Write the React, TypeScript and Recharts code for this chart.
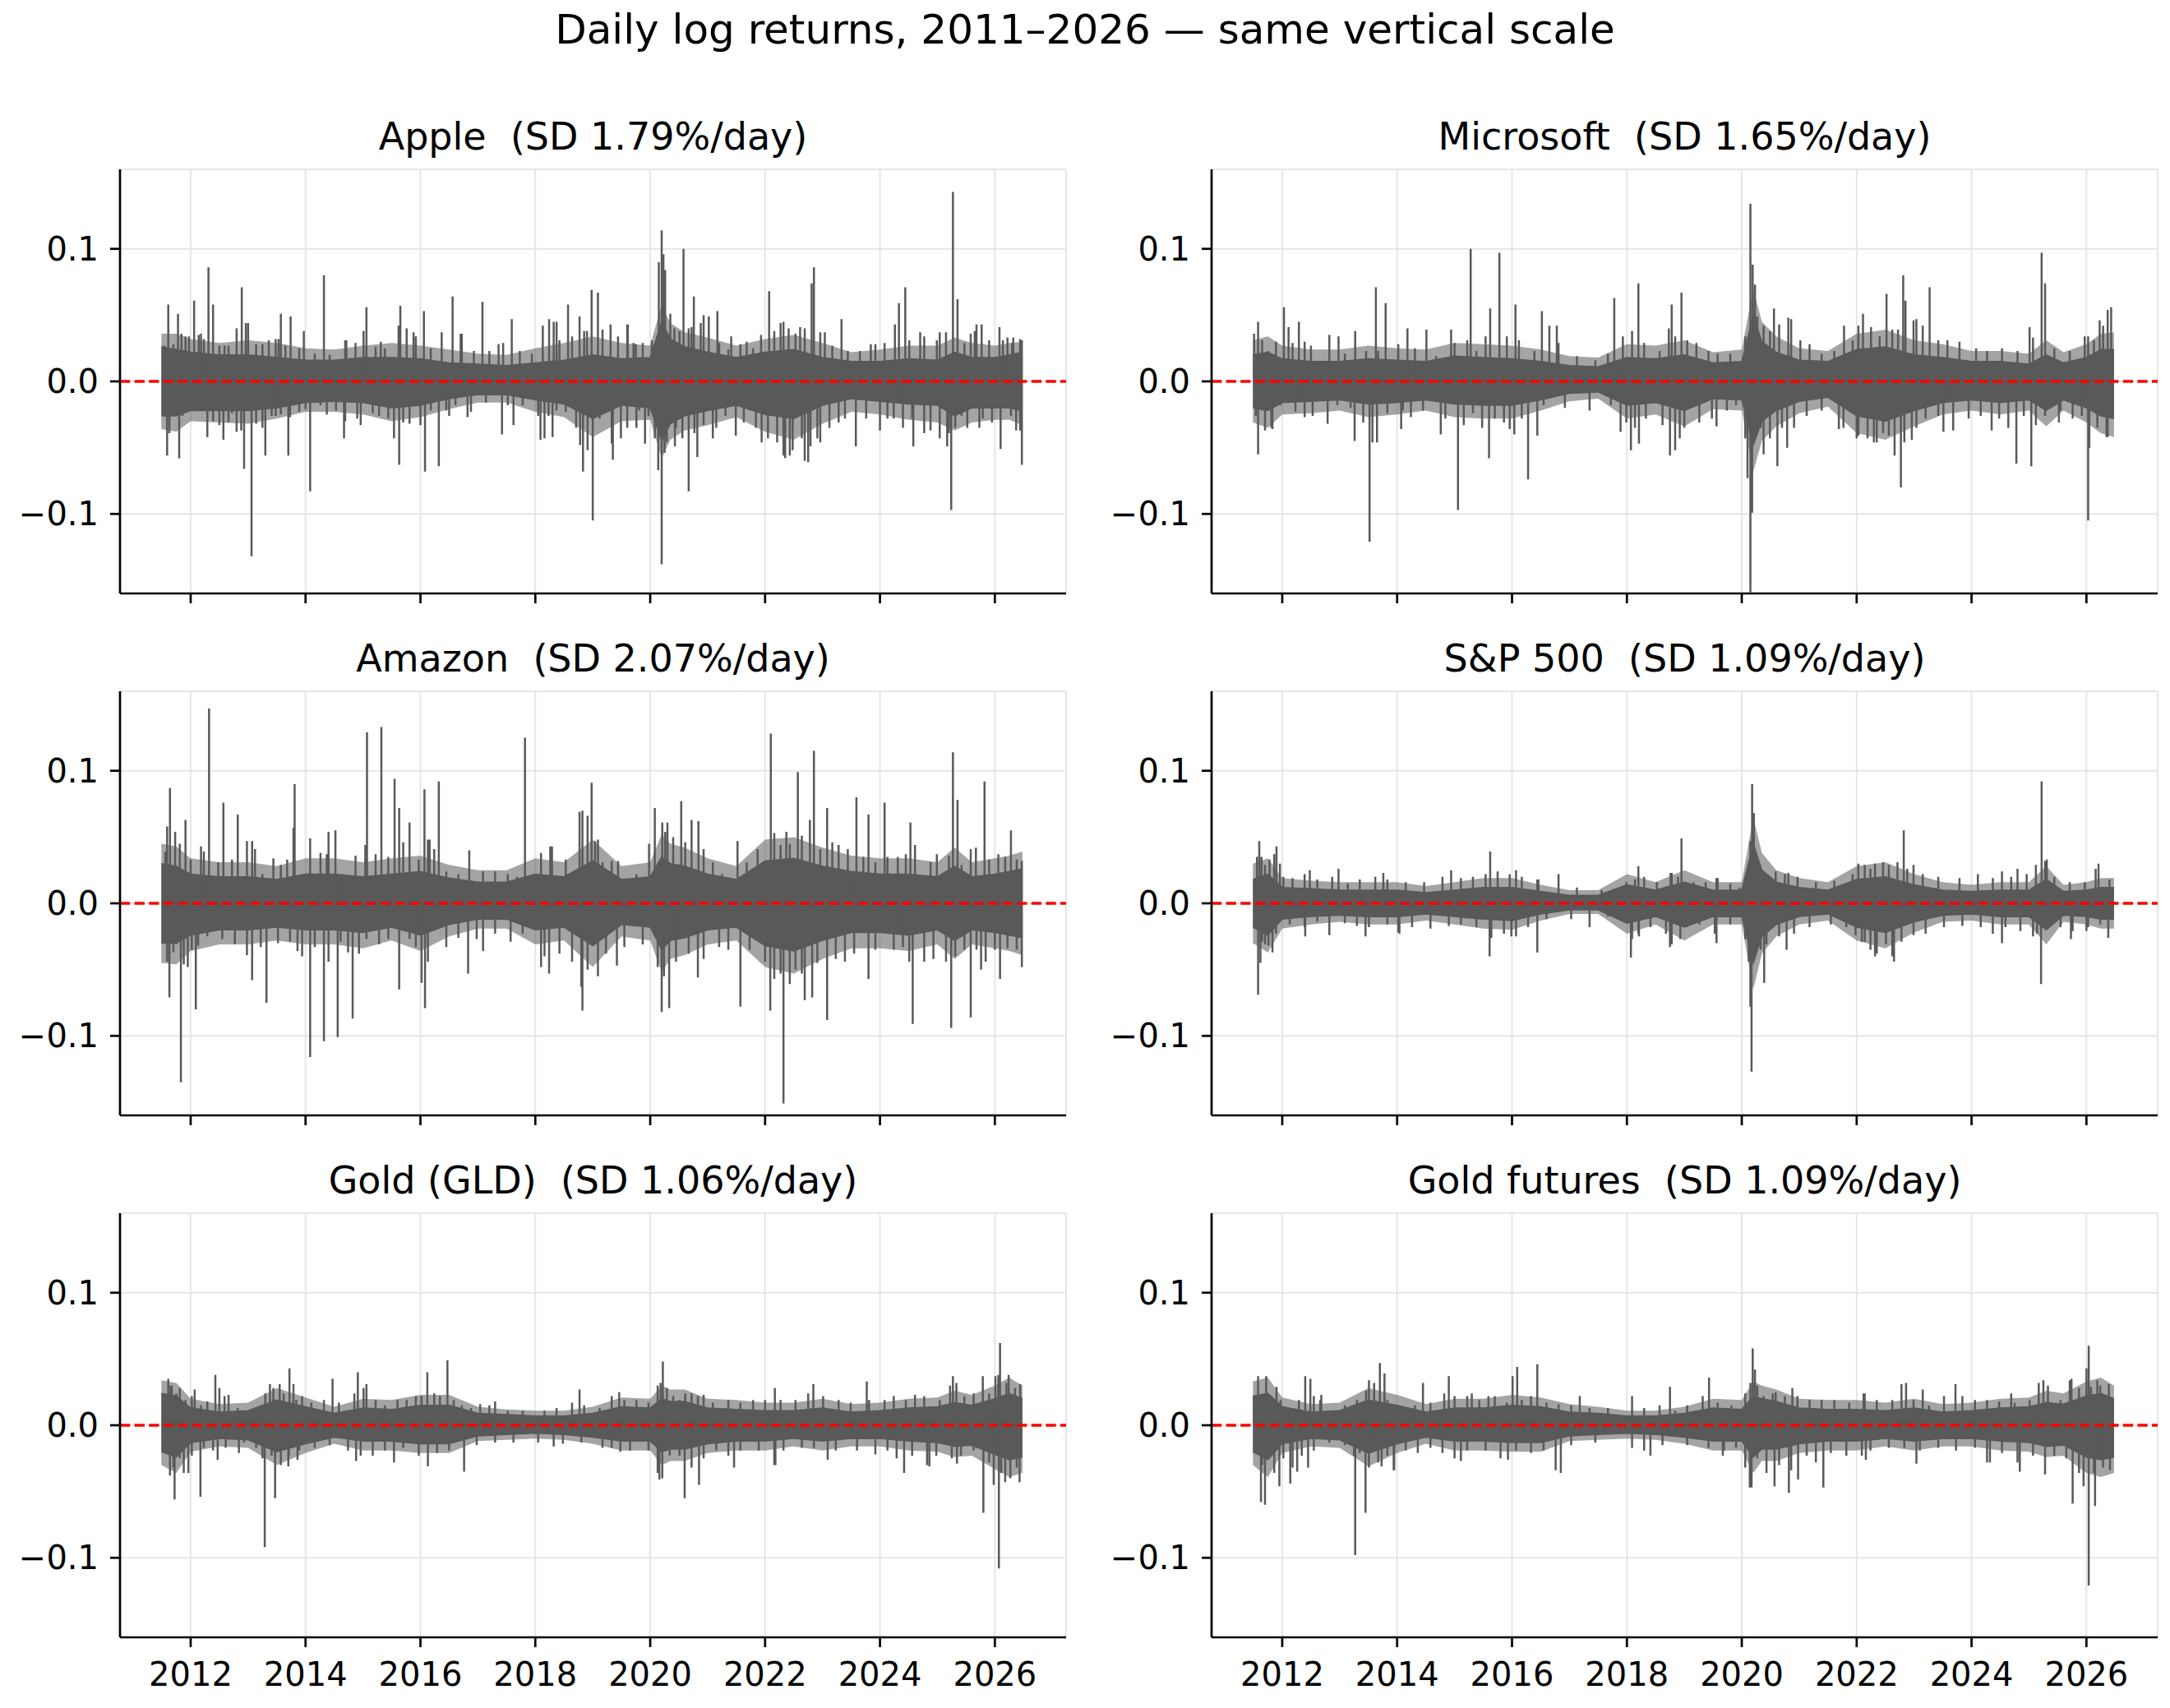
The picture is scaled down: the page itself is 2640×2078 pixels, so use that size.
import React from 'react';
import { ComposedChart, Area, Line, XAxis, YAxis, CartesianGrid, ReferenceLine } from 'recharts';

const FONT = '"DejaVu Sans", Verdana, sans-serif';
const INK = '#595959';

const MAIN_TITLE = 'Daily log returns, 2011–2026 — same vertical scale';
const YEAR_TICKS = [2012, 2014, 2016, 2018, 2020, 2022, 2024, 2026];
const Y_TICKS = [-0.1, 0, 0.1];

// time points (decimal years) at which the dense core / fringe of each series is read
const BAND_T = [
  2011.49, 2011.75, 2012.0, 2012.5, 2013.0, 2013.5, 2014.0, 2014.5, 2015.0, 2015.5, 2016.0, 2016.5,
  2017.0, 2017.5, 2018.0, 2018.5, 2019.0, 2019.5, 2020.0, 2020.2, 2020.35, 2020.6, 2021.0, 2021.5,
  2022.0, 2022.5, 2023.0, 2023.5, 2024.0, 2024.5, 2025.0, 2025.3, 2025.6, 2026.0, 2026.25, 2026.48,
];

// ---------- Apple ----------
const APPLE_HI = [
  0.026, 0.024, 0.022, 0.020, 0.020, 0.018, 0.016, 0.016, 0.018, 0.018, 0.017, 0.014,
  0.013, 0.012, 0.014, 0.016, 0.020, 0.017, 0.018, 0.045, 0.032, 0.026, 0.022, 0.018,
  0.022, 0.024, 0.018, 0.015, 0.015, 0.017, 0.016, 0.022, 0.018, 0.018, 0.020, 0.022,
];
const APPLE_LO = [
  -0.026, -0.026, -0.022, -0.022, -0.022, -0.020, -0.016, -0.015, -0.016, -0.020, -0.018, -0.013,
  -0.010, -0.010, -0.014, -0.017, -0.028, -0.018, -0.020, -0.045, -0.032, -0.026, -0.022, -0.018,
  -0.025, -0.028, -0.018, -0.013, -0.015, -0.017, -0.018, -0.026, -0.020, -0.020, -0.020, -0.022,
];
const APPLE_HI2 = [
  0.036, 0.036, 0.032, 0.029, 0.031, 0.029, 0.025, 0.024, 0.027, 0.029, 0.027, 0.024,
  0.021, 0.020, 0.025, 0.029, 0.034, 0.029, 0.027, 0.058, 0.044, 0.037, 0.033, 0.027,
  0.032, 0.035, 0.029, 0.022, 0.024, 0.027, 0.027, 0.033, 0.029, 0.027, 0.029, 0.030,
];
const APPLE_LO2 = [
  -0.036, -0.038, -0.030, -0.031, -0.032, -0.028, -0.023, -0.023, -0.025, -0.030, -0.027, -0.021,
  -0.016, -0.016, -0.023, -0.027, -0.042, -0.030, -0.029, -0.058, -0.044, -0.037, -0.033, -0.027,
  -0.038, -0.044, -0.032, -0.023, -0.025, -0.029, -0.031, -0.037, -0.031, -0.029, -0.029, -0.033,
];
const APPLE_SPIKES = [
  [2011.61, 0.058], [2011.78, 0.051], [2012.06, 0.061], [2012.31, 0.086], [2012.39, 0.058], [2012.89, 0.071],
  [2013.0, 0.044], [2013.57, 0.051], [2013.74, 0.049], [2014.32, 0.080], [2015.06, 0.056], [2015.65, 0.057],
  [2016.06, 0.053], [2016.56, 0.064], [2017.08, 0.060], [2017.59, 0.047], [2018.24, 0.047], [2018.57, 0.058],
  [2018.98, 0.069], [2019.09, 0.067], [2019.61, 0.043], [2020.15, 0.090], [2020.20, 0.114], [2020.23, 0.096],
  [2020.26, 0.084], [2020.58, 0.100], [2020.76, 0.064], [2021.17, 0.053], [2022.07, 0.068], [2022.32, 0.045],
  [2022.81, 0.074], [2022.85, 0.086], [2023.33, 0.047], [2024.33, 0.059], [2024.44, 0.071], [2024.70, 0.037],
  [2025.27, 0.143], [2025.35, 0.062], [2025.77, 0.043], [2026.08, 0.041], [2026.47, 0.031],
  [2011.59, -0.056], [2011.80, -0.058], [2012.29, -0.042], [2012.57, -0.044], [2012.93, -0.066], [2013.06, -0.132],
  [2013.30, -0.056], [2013.70, -0.056], [2014.08, -0.083], [2014.67, -0.043], [2015.54, -0.043], [2015.63, -0.063],
  [2016.08, -0.068], [2016.32, -0.064], [2017.42, -0.040], [2018.09, -0.044], [2018.30, -0.042], [2018.83, -0.068],
  [2019.0, -0.105], [2019.35, -0.059], [2019.91, -0.047], [2020.14, -0.067], [2020.20, -0.138], [2020.25, -0.054],
  [2020.43, -0.049], [2020.67, -0.083], [2020.82, -0.057], [2021.94, -0.046], [2022.35, -0.058], [2022.69, -0.060],
  [2022.79, -0.049], [2023.58, -0.049], [2024.0, -0.037], [2024.58, -0.049], [2025.17, -0.049], [2025.24, -0.097],
  [2026.10, -0.051], [2026.47, -0.063],
];
const APPLE_FUZZ = [
  [2011.54, 0.027], [2011.70, 0.028], [2011.84, 0.036], [2011.91, 0.034], [2011.97, 0.034], [2012.14, 0.035],
  [2012.18, 0.036], [2012.23, 0.032], [2012.50, 0.027], [2012.59, 0.027], [2012.66, 0.027], [2012.80, 0.040],
  [2012.96, 0.044], [2013.14, 0.028], [2013.25, 0.028], [2013.36, 0.031], [2013.48, 0.032], [2013.53, 0.032],
  [2013.65, 0.027], [2013.89, 0.025], [2013.97, 0.038], [2014.16, 0.021], [2014.42, 0.020], [2014.69, 0.031],
  [2014.71, 0.031], [2014.87, 0.029], [2015.01, 0.038], [2015.22, 0.026], [2015.31, 0.030], [2015.38, 0.025],
  [2015.62, 0.042], [2015.76, 0.040], [2015.88, 0.037], [2015.92, 0.034], [2016.18, 0.025], [2016.37, 0.037],
  [2016.70, 0.036], [2016.72, 0.036], [2016.93, 0.023], [2017.20, 0.023], [2017.36, 0.028], [2017.44, 0.029],
  [2017.73, 0.023], [2017.94, 0.021], [2018.13, 0.042], [2018.32, 0.045], [2018.37, 0.045], [2018.42, 0.031],
  [2018.64, 0.034], [2018.77, 0.049], [2018.85, 0.038], [2018.90, 0.038], [2019.17, 0.039], [2019.31, 0.043],
  [2019.44, 0.034], [2019.60, 0.043], [2019.71, 0.029], [2019.75, 0.028], [2019.87, 0.029], [2020.03, 0.031],
  [2020.35, 0.051], [2020.42, 0.040], [2020.51, 0.038], [2020.67, 0.040], [2020.72, 0.041], [2020.88, 0.044],
  [2020.93, 0.050], [2021.02, 0.049], [2021.20, 0.029], [2021.36, 0.024], [2021.41, 0.034], [2021.57, 0.028],
  [2021.68, 0.030], [2021.79, 0.025], [2021.93, 0.035], [2022.16, 0.038], [2022.27, 0.044], [2022.41, 0.040],
  [2022.53, 0.036], [2022.61, 0.041], [2022.69, 0.040], [2022.96, 0.037], [2023.04, 0.037], [2023.17, 0.027],
  [2023.44, 0.023], [2023.65, 0.023], [2023.84, 0.028], [2023.92, 0.028], [2024.08, 0.029], [2024.26, 0.043],
  [2024.51, 0.031], [2024.77, 0.034], [2024.99, 0.031], [2025.04, 0.037], [2025.15, 0.037], [2025.47, 0.029],
  [2025.58, 0.036], [2025.65, 0.038], [2025.68, 0.043], [2025.90, 0.031], [2026.14, 0.031], [2026.22, 0.033],
  [2026.30, 0.029], [2026.32, 0.033], [2026.44, 0.032],
  [2011.63, -0.039], [2011.71, -0.024], [2011.86, -0.026], [2012.13, -0.022], [2012.39, -0.030], [2012.50, -0.033],
  [2012.66, -0.031], [2012.72, -0.024], [2012.80, -0.038], [2012.88, -0.037], [2013.14, -0.032], [2013.25, -0.035],
  [2013.41, -0.026], [2013.48, -0.026], [2013.57, -0.025], [2013.73, -0.027], [2013.89, -0.023], [2014.0, -0.021],
  [2014.26, -0.018], [2014.37, -0.025], [2014.53, -0.022], [2014.69, -0.030], [2014.90, -0.028], [2014.96, -0.033],
  [2015.17, -0.024], [2015.28, -0.026], [2015.44, -0.028], [2015.70, -0.031], [2015.81, -0.032], [2016.0, -0.033],
  [2016.18, -0.022], [2016.45, -0.022], [2016.50, -0.026], [2016.61, -0.018], [2016.82, -0.027], [2016.88, -0.023],
  [2017.14, -0.016], [2017.52, -0.018], [2017.62, -0.033], [2017.78, -0.018], [2018.05, -0.026], [2018.16, -0.043],
  [2018.23, -0.026], [2018.37, -0.022], [2018.53, -0.023], [2018.71, -0.035], [2018.78, -0.048], [2018.91, -0.052],
  [2019.12, -0.028], [2019.33, -0.047], [2019.49, -0.043], [2019.60, -0.035], [2019.76, -0.035], [2019.81, -0.022],
  [2019.97, -0.026], [2020.08, -0.043], [2020.29, -0.046], [2020.45, -0.035], [2020.56, -0.043], [2020.77, -0.039],
  [2020.93, -0.033], [2021.09, -0.043], [2021.15, -0.035], [2021.31, -0.026], [2021.49, -0.041], [2021.63, -0.031],
  [2021.84, -0.035], [2022.05, -0.043], [2022.21, -0.046], [2022.32, -0.056], [2022.43, -0.056], [2022.48, -0.052],
  [2022.64, -0.043], [2022.75, -0.061], [2022.91, -0.043], [2022.96, -0.046], [2023.12, -0.035], [2023.28, -0.031],
  [2023.39, -0.028], [2023.76, -0.028], [2024.13, -0.028], [2024.24, -0.028], [2024.40, -0.035], [2024.56, -0.028],
  [2024.77, -0.039], [2024.88, -0.037], [2025.04, -0.043], [2025.20, -0.039], [2025.31, -0.035], [2025.42, -0.026],
  [2025.52, -0.035], [2025.73, -0.035], [2025.79, -0.028], [2025.95, -0.031], [2026.28, -0.026], [2026.37, -0.037],
  [2026.44, -0.037],
];

// ---------- Microsoft ----------
const MSFT_HI = [
  0.020, 0.022, 0.017, 0.015, 0.015, 0.017, 0.016, 0.015, 0.019, 0.018, 0.017, 0.015,
  0.012, 0.011, 0.018, 0.017, 0.020, 0.014, 0.015, 0.050, 0.030, 0.022, 0.016, 0.015,
  0.024, 0.026, 0.020, 0.018, 0.015, 0.015, 0.013, 0.020, 0.014, 0.018, 0.024, 0.024,
];
const MSFT_LO = [
  -0.020, -0.022, -0.016, -0.015, -0.014, -0.017, -0.016, -0.014, -0.017, -0.018, -0.018, -0.014,
  -0.009, -0.008, -0.018, -0.016, -0.022, -0.013, -0.014, -0.048, -0.030, -0.022, -0.015, -0.012,
  -0.026, -0.030, -0.022, -0.016, -0.014, -0.016, -0.014, -0.022, -0.014, -0.020, -0.026, -0.028,
];
const MSFT_HI2 = [
  0.031, 0.034, 0.027, 0.024, 0.024, 0.027, 0.025, 0.024, 0.029, 0.028, 0.027, 0.024,
  0.019, 0.018, 0.028, 0.027, 0.031, 0.022, 0.024, 0.070, 0.045, 0.034, 0.025, 0.023,
  0.036, 0.039, 0.031, 0.028, 0.023, 0.023, 0.021, 0.031, 0.022, 0.028, 0.036, 0.037,
];
const MSFT_LO2 = [
  -0.031, -0.035, -0.025, -0.024, -0.022, -0.027, -0.025, -0.022, -0.027, -0.028, -0.028, -0.022,
  -0.015, -0.013, -0.028, -0.025, -0.034, -0.021, -0.022, -0.068, -0.045, -0.034, -0.024, -0.019,
  -0.039, -0.044, -0.034, -0.025, -0.022, -0.025, -0.022, -0.034, -0.022, -0.031, -0.039, -0.042,
];
const MSFT_SPIKES = [
  [2011.58, 0.045], [2012.03, 0.056], [2012.29, 0.045], [2013.63, 0.071], [2013.80, 0.059], [2014.18, 0.040],
  [2014.51, 0.039], [2014.94, 0.039], [2015.28, 0.100], [2015.62, 0.055], [2015.78, 0.097], [2016.06, 0.058],
  [2016.52, 0.053], [2016.78, 0.042], [2017.78, 0.063], [2018.20, 0.074], [2018.78, 0.058], [2018.95, 0.067],
  [2020.15, 0.134], [2020.19, 0.088], [2020.23, 0.073], [2020.56, 0.055], [2020.81, 0.048], [2021.78, 0.042],
  [2022.11, 0.051], [2022.52, 0.066], [2022.81, 0.080], [2022.85, 0.061], [2023.27, 0.071], [2023.04, 0.047],
  [2025.01, 0.041], [2025.22, 0.097], [2025.28, 0.074], [2025.97, 0.034], [2026.23, 0.046], [2026.37, 0.054],
  [2026.43, 0.056],
  [2011.58, -0.055], [2011.70, -0.037], [2011.83, -0.036], [2013.26, -0.045], [2013.52, -0.121], [2013.65, -0.046],
  [2014.07, -0.036], [2014.76, -0.040], [2015.06, -0.097], [2015.60, -0.058], [2016.04, -0.040], [2016.28, -0.074],
  [2016.44, -0.041], [2017.89, -0.038], [2018.07, -0.052], [2018.21, -0.047], [2018.75, -0.056], [2018.92, -0.043],
  [2019.56, -0.034], [2020.10, -0.073], [2020.15, -0.159], [2020.18, -0.099], [2020.38, -0.055], [2020.62, -0.064],
  [2020.79, -0.050], [2021.69, -0.036], [2022.0, -0.043], [2022.35, -0.046], [2022.66, -0.056], [2022.77, -0.080],
  [2022.96, -0.044], [2023.51, -0.038], [2024.35, -0.037], [2024.78, -0.062], [2025.04, -0.064], [2025.52, -0.031],
  [2026.03, -0.105], [2026.05, -0.050], [2026.37, -0.042],
];
const MSFT_FUZZ = [
  [2011.51, 0.036], [2011.65, 0.031], [2011.76, 0.023], [2011.89, 0.030], [2012.11, 0.041], [2012.18, 0.029],
  [2012.39, 0.030], [2012.50, 0.027], [2012.82, 0.035], [2012.98, 0.034], [2013.09, 0.021], [2013.27, 0.038],
  [2013.46, 0.023], [2013.67, 0.023], [2014.02, 0.028], [2014.31, 0.025], [2014.68, 0.019], [2015.0, 0.029],
  [2015.22, 0.031], [2015.38, 0.023], [2015.54, 0.034], [2015.91, 0.034], [2016.12, 0.031], [2016.39, 0.023],
  [2016.65, 0.042], [2016.81, 0.029], [2017.13, 0.019], [2017.45, 0.016], [2017.67, 0.021], [2017.93, 0.034],
  [2018.09, 0.038], [2018.30, 0.029], [2018.57, 0.023], [2018.73, 0.040], [2018.84, 0.034], [2019.05, 0.031],
  [2019.21, 0.029], [2019.42, 0.023], [2019.58, 0.021], [2019.80, 0.021], [2020.06, 0.034], [2020.27, 0.049],
  [2020.38, 0.042], [2020.49, 0.038], [2020.65, 0.043], [2020.86, 0.047], [2021.02, 0.031], [2021.18, 0.028],
  [2021.39, 0.021], [2021.61, 0.023], [2021.93, 0.031], [2022.03, 0.042], [2022.25, 0.041], [2022.40, 0.034],
  [2022.62, 0.039], [2022.72, 0.039], [2022.99, 0.046], [2023.15, 0.042], [2023.42, 0.031], [2023.58, 0.031],
  [2023.79, 0.030], [2024.08, 0.025], [2024.27, 0.023], [2024.53, 0.025], [2024.80, 0.023], [2025.07, 0.033],
  [2025.44, 0.025], [2025.71, 0.023], [2026.03, 0.034], [2026.13, 0.031], [2026.29, 0.042],
  [2011.54, -0.026], [2011.65, -0.022], [2011.81, -0.035], [2011.97, -0.018], [2012.23, -0.023], [2012.39, -0.027],
  [2012.53, -0.026], [2012.79, -0.032], [2012.96, -0.018], [2013.19, -0.020], [2013.41, -0.031], [2013.57, -0.046],
  [2013.83, -0.024], [2014.10, -0.022], [2014.24, -0.027], [2014.45, -0.022], [2014.84, -0.028], [2015.16, -0.033],
  [2015.32, -0.024], [2015.48, -0.035], [2015.70, -0.028], [2015.86, -0.031], [2015.96, -0.036], [2016.17, -0.028],
  [2016.55, -0.018], [2016.92, -0.020], [2017.35, -0.022], [2017.72, -0.018], [2017.99, -0.031], [2018.14, -0.035],
  [2018.33, -0.028], [2018.62, -0.033], [2018.84, -0.052], [2019.0, -0.035], [2019.26, -0.031], [2019.48, -0.028],
  [2019.74, -0.022], [2019.90, -0.018], [2020.06, -0.043], [2020.22, -0.043], [2020.33, -0.035], [2020.49, -0.043],
  [2020.70, -0.035], [2020.91, -0.035], [2021.13, -0.026], [2021.39, -0.022], [2021.77, -0.035], [2022.03, -0.041],
  [2022.19, -0.043], [2022.30, -0.046], [2022.46, -0.039], [2022.56, -0.041], [2022.83, -0.046], [2023.04, -0.035],
  [2023.20, -0.028], [2023.42, -0.026], [2023.68, -0.037], [2023.95, -0.028], [2024.16, -0.026], [2024.48, -0.028],
  [2024.64, -0.035], [2024.91, -0.026], [2025.12, -0.033], [2025.28, -0.026], [2025.55, -0.022], [2025.76, -0.028],
  [2025.92, -0.026], [2026.19, -0.035], [2026.35, -0.042],
];

// ---------- Amazon ----------
const AMZN_HI = [
  0.030, 0.028, 0.022, 0.020, 0.020, 0.018, 0.022, 0.022, 0.020, 0.022, 0.024, 0.019,
  0.016, 0.016, 0.022, 0.020, 0.032, 0.018, 0.020, 0.035, 0.030, 0.028, 0.022, 0.018,
  0.032, 0.034, 0.028, 0.024, 0.022, 0.022, 0.020, 0.028, 0.020, 0.022, 0.024, 0.026,
];
const AMZN_LO = [
  -0.030, -0.030, -0.024, -0.020, -0.020, -0.018, -0.020, -0.020, -0.022, -0.018, -0.024, -0.016,
  -0.012, -0.012, -0.020, -0.018, -0.032, -0.016, -0.018, -0.035, -0.028, -0.026, -0.020, -0.018,
  -0.032, -0.036, -0.028, -0.022, -0.022, -0.024, -0.020, -0.028, -0.020, -0.022, -0.024, -0.026,
];
const AMZN_HI2 = [
  0.045, 0.043, 0.034, 0.031, 0.031, 0.028, 0.034, 0.034, 0.031, 0.034, 0.036, 0.029,
  0.025, 0.025, 0.034, 0.031, 0.048, 0.028, 0.031, 0.052, 0.045, 0.042, 0.034, 0.028,
  0.048, 0.050, 0.042, 0.036, 0.034, 0.034, 0.031, 0.042, 0.031, 0.034, 0.036, 0.039,
];
const AMZN_LO2 = [
  -0.045, -0.046, -0.036, -0.031, -0.031, -0.028, -0.031, -0.031, -0.034, -0.028, -0.036, -0.025,
  -0.019, -0.019, -0.031, -0.028, -0.048, -0.025, -0.028, -0.052, -0.042, -0.039, -0.031, -0.028,
  -0.048, -0.053, -0.042, -0.034, -0.034, -0.036, -0.031, -0.042, -0.031, -0.034, -0.036, -0.039,
];
const AMZN_SPIKES = [
  [2011.64, 0.087], [2011.59, 0.058], [2011.91, 0.063], [2012.32, 0.147], [2012.57, 0.076], [2012.82, 0.067],
  [2013.07, 0.047], [2013.44, 0.034], [2013.79, 0.057], [2013.81, 0.090], [2014.08, 0.049], [2014.40, 0.054],
  [2014.52, 0.055], [2014.87, 0.036], [2015.07, 0.129], [2015.32, 0.133], [2015.55, 0.094], [2015.63, 0.072],
  [2015.81, 0.061], [2016.07, 0.086], [2016.16, 0.048], [2016.32, 0.092], [2016.85, 0.040], [2017.82, 0.125],
  [2018.26, 0.043], [2018.82, 0.070], [2018.98, 0.091], [2019.09, 0.048], [2020.08, 0.072], [2020.30, 0.061],
  [2020.54, 0.077], [2020.84, 0.062], [2021.52, 0.047], [2021.87, 0.041], [2022.10, 0.128], [2022.57, 0.099],
  [2022.78, 0.063], [2022.85, 0.115], [2023.08, 0.072], [2023.59, 0.080], [2023.80, 0.067], [2024.08, 0.076],
  [2024.53, 0.061], [2025.27, 0.114], [2025.35, 0.078], [2025.67, 0.042], [2025.82, 0.092], [2026.28, 0.055],
  [2026.47, 0.032],
  [2011.63, -0.071], [2011.83, -0.135], [2011.95, -0.048], [2012.09, -0.080], [2013.07, -0.058], [2013.32, -0.075],
  [2013.86, -0.036], [2014.08, -0.116], [2014.32, -0.104], [2014.56, -0.101], [2014.82, -0.087], [2014.93, -0.038],
  [2015.63, -0.065], [2016.02, -0.060], [2016.08, -0.079], [2016.83, -0.053], [2017.09, -0.036], [2018.10, -0.048],
  [2018.24, -0.053], [2018.80, -0.063], [2018.82, -0.081], [2019.09, -0.055], [2019.42, -0.047], [2020.20, -0.082],
  [2020.33, -0.079], [2020.83, -0.056], [2021.57, -0.078], [2022.09, -0.081], [2022.32, -0.151], [2022.69, -0.073],
  [2022.82, -0.071], [2023.08, -0.088], [2023.80, -0.057], [2024.57, -0.091], [2025.24, -0.094], [2025.58, -0.086],
  [2025.76, -0.050], [2026.09, -0.057], [2026.47, -0.048],
];
const AMZN_FUZZ = [
  [2011.56, 0.039], [2011.73, 0.054], [2011.81, 0.045], [2012.0, 0.033], [2012.18, 0.043], [2012.23, 0.039],
  [2012.48, 0.031], [2012.72, 0.033], [2012.98, 0.047], [2013.12, 0.041], [2013.25, 0.022], [2013.57, 0.029],
  [2013.68, 0.033], [2014.26, 0.038], [2014.37, 0.037], [2014.64, 0.022], [2015.04, 0.044], [2015.22, 0.037],
  [2015.44, 0.035], [2015.70, 0.046], [2015.97, 0.033], [2016.13, 0.048], [2016.24, 0.041], [2016.45, 0.024],
  [2016.66, 0.022], [2017.09, 0.024], [2017.30, 0.024], [2017.52, 0.022], [2017.68, 0.020], [2018.10, 0.038],
  [2018.29, 0.043], [2018.53, 0.033], [2018.77, 0.069], [2018.91, 0.066], [2019.04, 0.047], [2019.17, 0.031],
  [2019.33, 0.032], [2019.44, 0.032], [2019.76, 0.022], [2019.98, 0.045], [2020.21, 0.061], [2020.26, 0.054],
  [2020.40, 0.050], [2020.61, 0.046], [2020.72, 0.063], [2020.93, 0.041], [2021.09, 0.031], [2021.25, 0.022],
  [2021.68, 0.031], [2022.16, 0.053], [2022.27, 0.044], [2022.37, 0.054], [2022.43, 0.045], [2022.64, 0.051],
  [2022.96, 0.041], [2023.17, 0.046], [2023.28, 0.044], [2023.44, 0.041], [2023.71, 0.035], [2023.92, 0.031],
  [2024.13, 0.035], [2024.31, 0.035], [2024.45, 0.037], [2024.61, 0.044], [2024.88, 0.031], [2024.99, 0.037],
  [2025.20, 0.036], [2025.42, 0.029], [2025.58, 0.041], [2025.90, 0.033], [2026.06, 0.037], [2026.18, 0.035],
  [2026.38, 0.033],
  [2011.59, -0.044], [2011.70, -0.037], [2011.75, -0.031], [2011.88, -0.046], [2012.02, -0.035], [2012.13, -0.032],
  [2012.29, -0.025], [2012.55, -0.027], [2012.77, -0.031], [2012.98, -0.039], [2013.22, -0.033], [2013.52, -0.030],
  [2013.73, -0.029], [2013.94, -0.040], [2014.16, -0.033], [2014.40, -0.044], [2014.61, -0.029], [2014.74, -0.037],
  [2015.06, -0.027], [2015.28, -0.031], [2015.44, -0.027], [2015.81, -0.027], [2015.92, -0.033], [2016.13, -0.044],
  [2016.45, -0.033], [2016.66, -0.026], [2016.98, -0.027], [2017.30, -0.023], [2017.57, -0.029], [2017.78, -0.023],
  [2018.16, -0.040], [2018.42, -0.038], [2018.64, -0.044], [2018.91, -0.050], [2019.23, -0.038], [2019.55, -0.033],
  [2019.87, -0.031], [2020.13, -0.048], [2020.24, -0.055], [2020.45, -0.044], [2020.67, -0.038], [2020.93, -0.042],
  [2021.20, -0.033], [2021.36, -0.035], [2021.73, -0.035], [2022.0, -0.044], [2022.16, -0.057], [2022.27, -0.053],
  [2022.43, -0.061], [2022.53, -0.050], [2022.64, -0.053], [2022.91, -0.045], [2023.23, -0.042], [2023.39, -0.044],
  [2023.55, -0.038], [2023.92, -0.035], [2024.24, -0.035], [2024.40, -0.033], [2024.51, -0.044], [2024.77, -0.044],
  [2024.93, -0.042], [2025.15, -0.044], [2025.31, -0.040], [2025.47, -0.035], [2025.68, -0.035], [2025.84, -0.044],
  [2026.0, -0.035], [2026.22, -0.034], [2026.38, -0.035],
];

// ---------- S&P 500 ----------
const SPX_HI = [
  0.018, 0.022, 0.012, 0.011, 0.010, 0.010, 0.010, 0.008, 0.010, 0.012, 0.012, 0.009,
  0.006, 0.006, 0.014, 0.010, 0.016, 0.010, 0.010, 0.045, 0.025, 0.016, 0.012, 0.010,
  0.018, 0.020, 0.014, 0.010, 0.009, 0.010, 0.010, 0.018, 0.009, 0.010, 0.012, 0.012,
];
const SPX_LO = [
  -0.018, -0.024, -0.012, -0.010, -0.009, -0.010, -0.010, -0.008, -0.010, -0.012, -0.013, -0.008,
  -0.005, -0.005, -0.015, -0.010, -0.018, -0.010, -0.010, -0.045, -0.025, -0.016, -0.010, -0.008,
  -0.018, -0.022, -0.014, -0.009, -0.008, -0.010, -0.010, -0.020, -0.009, -0.010, -0.012, -0.012,
];
const SPX_HI2 = [
  0.030, 0.034, 0.019, 0.017, 0.016, 0.016, 0.016, 0.013, 0.016, 0.019, 0.019, 0.014,
  0.010, 0.010, 0.022, 0.016, 0.025, 0.016, 0.016, 0.065, 0.038, 0.025, 0.019, 0.016,
  0.028, 0.031, 0.022, 0.016, 0.014, 0.016, 0.016, 0.028, 0.014, 0.016, 0.019, 0.019,
];
const SPX_LO2 = [
  -0.030, -0.037, -0.019, -0.016, -0.014, -0.016, -0.016, -0.013, -0.016, -0.019, -0.020, -0.013,
  -0.008, -0.008, -0.023, -0.016, -0.028, -0.016, -0.016, -0.065, -0.038, -0.025, -0.016, -0.013,
  -0.028, -0.034, -0.022, -0.014, -0.013, -0.016, -0.016, -0.031, -0.014, -0.016, -0.019, -0.019,
];
const SPX_SPIKES = [
  [2011.60, 0.047], [2011.64, 0.035], [2011.90, 0.043], [2011.96, 0.030], [2012.48, 0.025], [2012.98, 0.026],
  [2013.76, 0.023], [2014.94, 0.025], [2015.62, 0.039], [2016.07, 0.025], [2016.46, 0.018], [2018.20, 0.028],
  [2018.76, 0.023], [2018.95, 0.049], [2019.56, 0.019], [2020.15, 0.047], [2020.18, 0.090], [2020.21, 0.068],
  [2020.25, 0.031], [2020.81, 0.023], [2022.03, 0.030], [2022.32, 0.030], [2022.71, 0.031], [2022.82, 0.055],
  [2022.99, 0.029], [2024.53, 0.024], [2024.80, 0.026], [2025.22, 0.092], [2025.31, 0.033], [2026.21, 0.030],
  [2011.58, -0.069], [2011.62, -0.045], [2011.70, -0.031], [2011.83, -0.037], [2012.40, -0.025], [2013.45, -0.025],
  [2014.04, -0.023], [2015.61, -0.040], [2015.99, -0.025], [2016.44, -0.037], [2017.35, -0.018], [2018.07, -0.041],
  [2018.21, -0.025], [2018.75, -0.033], [2018.93, -0.027], [2019.56, -0.030], [2020.12, -0.044], [2020.15, -0.078],
  [2020.17, -0.127], [2020.20, -0.045], [2020.39, -0.060], [2020.78, -0.035], [2022.14, -0.029], [2022.32, -0.040],
  [2022.65, -0.044], [2024.53, -0.030], [2025.21, -0.061], [2025.73, -0.027], [2026.0, -0.021], [2026.38, -0.026],
];
const SPX_FUZZ = [
  [2011.56, 0.035], [2011.70, 0.029], [2011.78, 0.033], [2011.86, 0.037], [2012.02, 0.020], [2012.18, 0.019],
  [2012.39, 0.022], [2012.61, 0.018], [2012.87, 0.020], [2013.14, 0.015], [2013.35, 0.018], [2013.62, 0.020],
  [2013.83, 0.018], [2014.15, 0.016], [2014.47, 0.016], [2014.79, 0.020], [2015.11, 0.019], [2015.32, 0.020],
  [2015.54, 0.022], [2015.75, 0.024], [2015.96, 0.022], [2016.17, 0.020], [2016.44, 0.018], [2016.81, 0.022],
  [2017.13, 0.012], [2017.56, 0.010], [2017.99, 0.016], [2018.14, 0.018], [2018.30, 0.020], [2018.52, 0.016],
  [2018.78, 0.023], [2018.89, 0.020], [2019.16, 0.016], [2019.37, 0.016], [2019.58, 0.019], [2019.80, 0.015],
  [2019.96, 0.012], [2020.27, 0.033], [2020.33, 0.026], [2020.43, 0.022], [2020.59, 0.024], [2020.75, 0.022],
  [2020.97, 0.020], [2021.29, 0.016], [2021.61, 0.017], [2021.93, 0.022], [2022.14, 0.029], [2022.24, 0.026],
  [2022.46, 0.031], [2022.56, 0.029], [2022.88, 0.026], [2023.15, 0.022], [2023.42, 0.020], [2023.79, 0.019],
  [2024.11, 0.022], [2024.37, 0.019], [2024.69, 0.020], [2024.96, 0.022], [2025.12, 0.029], [2025.28, 0.032],
  [2025.44, 0.020], [2025.71, 0.016], [2025.97, 0.016], [2026.16, 0.026], [2026.40, 0.018],
  [2011.54, -0.018], [2011.65, -0.029], [2011.76, -0.032], [2011.89, -0.023], [2012.13, -0.016], [2012.39, -0.018],
  [2012.61, -0.014], [2012.82, -0.024], [2013.09, -0.015], [2013.30, -0.017], [2013.51, -0.018], [2013.83, -0.016],
  [2014.02, -0.022], [2014.26, -0.018], [2014.58, -0.019], [2014.90, -0.017], [2015.11, -0.016], [2015.38, -0.018],
  [2015.64, -0.026], [2015.86, -0.023], [2016.07, -0.025], [2016.28, -0.018], [2016.60, -0.012], [2017.03, -0.012],
  [2017.67, -0.010], [2018.09, -0.027], [2018.20, -0.023], [2018.41, -0.018], [2018.68, -0.023], [2018.78, -0.031],
  [2019.05, -0.018], [2019.26, -0.016], [2019.53, -0.023], [2019.80, -0.016], [2020.06, -0.027], [2020.22, -0.042],
  [2020.33, -0.035], [2020.43, -0.031], [2020.65, -0.025], [2020.91, -0.023], [2021.18, -0.018], [2021.55, -0.016],
  [2021.82, -0.018], [2021.98, -0.024], [2022.09, -0.029], [2022.24, -0.035], [2022.35, -0.038], [2022.51, -0.031],
  [2022.62, -0.040], [2022.78, -0.029], [2022.99, -0.024], [2023.20, -0.023], [2023.52, -0.018], [2023.84, -0.017],
  [2024.16, -0.018], [2024.37, -0.023], [2024.59, -0.018], [2024.85, -0.021], [2025.07, -0.025], [2025.14, -0.023],
  [2025.28, -0.018], [2025.55, -0.018], [2025.76, -0.021], [2026.03, -0.018], [2026.24, -0.016],
];

// ---------- Gold (GLD) ----------
const GLD_HI = [
  0.024, 0.022, 0.013, 0.010, 0.011, 0.019, 0.014, 0.009, 0.013, 0.012, 0.015, 0.015,
  0.009, 0.008, 0.007, 0.007, 0.009, 0.014, 0.013, 0.020, 0.018, 0.018, 0.013, 0.012,
  0.011, 0.011, 0.013, 0.010, 0.011, 0.013, 0.014, 0.017, 0.015, 0.020, 0.024, 0.020,
];
const GLD_LO = [
  -0.020, -0.024, -0.013, -0.010, -0.011, -0.020, -0.014, -0.009, -0.012, -0.012, -0.014, -0.014,
  -0.008, -0.007, -0.006, -0.007, -0.009, -0.012, -0.012, -0.020, -0.018, -0.018, -0.014, -0.012,
  -0.012, -0.010, -0.012, -0.010, -0.010, -0.012, -0.013, -0.016, -0.015, -0.022, -0.026, -0.024,
];
const GLD_HI2 = [
  0.034, 0.032, 0.020, 0.016, 0.017, 0.028, 0.021, 0.014, 0.020, 0.019, 0.023, 0.023,
  0.014, 0.012, 0.011, 0.011, 0.014, 0.021, 0.020, 0.030, 0.027, 0.027, 0.020, 0.019,
  0.017, 0.017, 0.020, 0.016, 0.017, 0.020, 0.021, 0.026, 0.023, 0.030, 0.036, 0.030,
];
const GLD_LO2 = [
  -0.030, -0.036, -0.020, -0.016, -0.017, -0.030, -0.021, -0.014, -0.019, -0.019, -0.021, -0.021,
  -0.012, -0.011, -0.010, -0.011, -0.014, -0.019, -0.019, -0.030, -0.027, -0.027, -0.021, -0.019,
  -0.019, -0.016, -0.019, -0.016, -0.016, -0.019, -0.020, -0.024, -0.023, -0.033, -0.039, -0.036,
];
const GLD_SPIKES = [
  [2011.61, 0.035], [2011.67, 0.030], [2011.81, 0.028], [2012.07, 0.027], [2012.43, 0.038], [2012.50, 0.028],
  [2012.66, 0.023], [2013.38, 0.031], [2013.55, 0.031], [2013.72, 0.043], [2013.79, 0.031], [2014.47, 0.035],
  [2014.91, 0.040], [2015.06, 0.031], [2015.92, 0.022], [2016.12, 0.040], [2016.47, 0.049], [2017.04, 0.016],
  [2017.30, 0.018], [2018.77, 0.027], [2019.46, 0.025], [2020.18, 0.032], [2020.22, 0.048], [2020.61, 0.024],
  [2020.93, 0.023], [2022.17, 0.028], [2022.84, 0.031], [2023.77, 0.033], [2024.61, 0.023], [2025.27, 0.037],
  [2025.79, 0.037], [2026.06, 0.038], [2026.09, 0.062], [2026.24, 0.038], [2026.44, 0.031],
  [2011.64, -0.038], [2011.72, -0.056], [2011.96, -0.036], [2012.17, -0.054], [2012.47, -0.026], [2012.84, -0.021],
  [2013.29, -0.092], [2013.47, -0.055], [2013.70, -0.031], [2013.86, -0.026], [2014.88, -0.027], [2015.54, -0.028],
  [2016.13, -0.031], [2016.76, -0.035], [2018.32, -0.016], [2019.48, -0.020], [2020.16, -0.041], [2020.60, -0.055],
  [2020.85, -0.045], [2021.46, -0.032], [2022.18, -0.030], [2023.09, -0.026], [2023.92, -0.022], [2024.42, -0.036],
  [2024.86, -0.031], [2025.34, -0.029], [2025.80, -0.066], [2025.98, -0.045], [2026.07, -0.108], [2026.18, -0.043],
  [2026.43, -0.043],
];
const GLD_FUZZ = [
  [2011.54, 0.019], [2011.65, 0.030], [2011.75, 0.024], [2011.91, 0.019], [2012.02, 0.022], [2012.18, 0.015],
  [2012.29, 0.018], [2012.59, 0.022], [2012.82, 0.013], [2012.98, 0.010], [2013.16, 0.011], [2013.30, 0.024],
  [2013.44, 0.028], [2013.62, 0.024], [2013.84, 0.019], [2013.94, 0.022], [2014.10, 0.017], [2014.32, 0.019],
  [2014.58, 0.017], [2014.74, 0.011], [2014.85, 0.024], [2015.01, 0.028], [2015.22, 0.019], [2015.38, 0.015],
  [2015.60, 0.019], [2015.76, 0.019], [2016.02, 0.022], [2016.24, 0.024], [2016.34, 0.022], [2016.58, 0.019],
  [2016.72, 0.015], [2016.88, 0.013], [2017.20, 0.015], [2017.52, 0.011], [2017.78, 0.011], [2018.16, 0.011],
  [2018.37, 0.013], [2018.64, 0.017], [2018.85, 0.015], [2019.12, 0.013], [2019.33, 0.022], [2019.55, 0.019],
  [2019.76, 0.019], [2019.97, 0.017], [2020.13, 0.030], [2020.29, 0.028], [2020.40, 0.022], [2020.51, 0.019],
  [2020.72, 0.024], [2020.83, 0.022], [2021.09, 0.017], [2021.36, 0.019], [2021.57, 0.017], [2021.79, 0.019],
  [2022.0, 0.019], [2022.27, 0.019], [2022.53, 0.019], [2022.75, 0.024], [2023.01, 0.022], [2023.28, 0.019],
  [2023.49, 0.017], [2023.81, 0.019], [2024.08, 0.019], [2024.24, 0.022], [2024.45, 0.019], [2024.77, 0.022],
  [2025.04, 0.019], [2025.22, 0.030], [2025.33, 0.032], [2025.47, 0.022], [2025.63, 0.024], [2025.90, 0.024],
  [2026.01, 0.037], [2026.20, 0.032], [2026.35, 0.028],
  [2011.56, -0.013], [2011.63, -0.021], [2011.70, -0.032], [2011.81, -0.025], [2011.88, -0.036], [2012.02, -0.023],
  [2012.23, -0.017], [2012.39, -0.019], [2012.61, -0.017], [2012.93, -0.013], [2013.14, -0.017], [2013.25, -0.025],
  [2013.41, -0.023], [2013.57, -0.030], [2013.71, -0.023], [2013.89, -0.019], [2014.16, -0.017], [2014.42, -0.015],
  [2014.74, -0.019], [2014.96, -0.023], [2015.17, -0.023], [2015.38, -0.019], [2015.70, -0.017], [2015.97, -0.023],
  [2016.29, -0.021], [2016.50, -0.019], [2016.98, -0.015], [2017.30, -0.013], [2017.62, -0.013], [2018.05, -0.013],
  [2018.48, -0.014], [2018.80, -0.013], [2019.17, -0.017], [2019.33, -0.017], [2019.65, -0.019], [2019.97, -0.019],
  [2020.13, -0.036], [2020.21, -0.040], [2020.34, -0.023], [2020.51, -0.023], [2020.72, -0.032], [2020.93, -0.025],
  [2021.15, -0.019], [2021.36, -0.023], [2021.57, -0.019], [2021.89, -0.019], [2022.16, -0.030], [2022.32, -0.019],
  [2022.64, -0.017], [2022.85, -0.017], [2023.23, -0.019], [2023.60, -0.019], [2023.92, -0.021], [2024.13, -0.019],
  [2024.29, -0.025], [2024.56, -0.023], [2024.82, -0.030], [2024.98, -0.023], [2025.25, -0.025], [2025.41, -0.023],
  [2025.63, -0.019], [2025.90, -0.028], [2026.11, -0.036], [2026.27, -0.040], [2026.38, -0.032],
];

// ---------- Gold futures ----------
const GC_HI = [
  0.022, 0.024, 0.014, 0.010, 0.011, 0.019, 0.015, 0.010, 0.013, 0.013, 0.015, 0.014,
  0.010, 0.009, 0.007, 0.007, 0.009, 0.013, 0.012, 0.022, 0.020, 0.018, 0.013, 0.012,
  0.012, 0.011, 0.013, 0.010, 0.011, 0.013, 0.014, 0.017, 0.016, 0.022, 0.024, 0.020,
];
const GC_LO = [
  -0.020, -0.026, -0.014, -0.010, -0.011, -0.021, -0.014, -0.009, -0.012, -0.012, -0.013, -0.013,
  -0.008, -0.007, -0.006, -0.007, -0.009, -0.012, -0.012, -0.024, -0.018, -0.018, -0.014, -0.012,
  -0.012, -0.010, -0.012, -0.010, -0.010, -0.012, -0.013, -0.016, -0.015, -0.024, -0.026, -0.024,
];
const GC_HI2 = [
  0.033, 0.036, 0.021, 0.016, 0.017, 0.028, 0.023, 0.016, 0.020, 0.020, 0.023, 0.021,
  0.016, 0.014, 0.011, 0.011, 0.014, 0.020, 0.019, 0.033, 0.030, 0.027, 0.020, 0.019,
  0.019, 0.017, 0.020, 0.016, 0.017, 0.020, 0.021, 0.026, 0.024, 0.033, 0.036, 0.030,
];
const GC_LO2 = [
  -0.030, -0.039, -0.021, -0.016, -0.017, -0.031, -0.021, -0.014, -0.019, -0.019, -0.020, -0.020,
  -0.012, -0.011, -0.010, -0.011, -0.014, -0.019, -0.019, -0.036, -0.027, -0.027, -0.021, -0.019,
  -0.019, -0.016, -0.019, -0.016, -0.016, -0.019, -0.020, -0.024, -0.023, -0.036, -0.039, -0.036,
];
const GC_SPIKES = [
  [2011.58, 0.037], [2011.72, 0.037], [2011.90, 0.029], [2012.40, 0.037], [2012.49, 0.035], [2012.68, 0.023],
  [2013.51, 0.034], [2013.70, 0.047], [2013.78, 0.039], [2014.45, 0.032], [2014.90, 0.037], [2015.30, 0.024],
  [2015.59, 0.022], [2016.09, 0.044], [2016.44, 0.046], [2017.18, 0.022], [2018.75, 0.029], [2019.43, 0.036],
  [2020.15, 0.032], [2020.19, 0.058], [2020.23, 0.042], [2020.59, 0.025], [2020.88, 0.028], [2022.14, 0.024],
  [2022.86, 0.032], [2023.15, 0.027], [2023.72, 0.031], [2024.69, 0.024], [2025.25, 0.034], [2025.74, 0.035],
  [2026.0, 0.043], [2026.04, 0.060], [2026.19, 0.034], [2026.39, 0.031],
  [2011.63, -0.058], [2011.70, -0.060], [2011.95, -0.046], [2012.14, -0.044], [2012.26, -0.035], [2012.45, -0.032],
  [2013.27, -0.098], [2013.45, -0.066], [2013.73, -0.031], [2013.95, -0.034], [2015.11, -0.027], [2015.93, -0.026],
  [2016.85, -0.036], [2018.41, -0.023], [2019.67, -0.023], [2020.14, -0.047], [2020.57, -0.046], [2020.82, -0.051],
  [2020.98, -0.041], [2021.42, -0.047], [2022.16, -0.026], [2023.04, -0.029], [2024.27, -0.028], [2024.84, -0.035],
  [2025.28, -0.037], [2025.76, -0.059], [2025.95, -0.046], [2026.04, -0.121], [2026.15, -0.061], [2026.41, -0.034],
];
const GC_FUZZ = [
  [2011.51, 0.022], [2011.62, 0.022], [2011.81, 0.022], [2011.97, 0.019], [2012.13, 0.013], [2012.29, 0.019],
  [2012.55, 0.022], [2012.66, 0.019], [2012.87, 0.011], [2013.09, 0.015], [2013.30, 0.019], [2013.46, 0.026],
  [2013.60, 0.032], [2013.83, 0.019], [2014.04, 0.015], [2014.31, 0.015], [2014.58, 0.017], [2014.82, 0.024],
  [2015.0, 0.022], [2015.22, 0.022], [2015.43, 0.019], [2015.70, 0.022], [2015.91, 0.017], [2016.01, 0.037],
  [2016.17, 0.019], [2016.33, 0.022], [2016.60, 0.017], [2016.81, 0.016], [2017.03, 0.015], [2017.35, 0.013],
  [2017.67, 0.013], [2018.09, 0.022], [2018.30, 0.013], [2018.57, 0.015], [2018.84, 0.011], [2019.05, 0.015],
  [2019.32, 0.022], [2019.58, 0.017], [2019.82, 0.015], [2020.06, 0.024], [2020.27, 0.030], [2020.38, 0.022],
  [2020.54, 0.024], [2020.75, 0.022], [2020.97, 0.022], [2021.18, 0.019], [2021.39, 0.019], [2021.61, 0.019],
  [2021.87, 0.017], [2022.12, 0.024], [2022.35, 0.019], [2022.62, 0.019], [2022.78, 0.031], [2022.99, 0.019],
  [2023.26, 0.015], [2023.52, 0.022], [2023.84, 0.022], [2024.06, 0.019], [2024.27, 0.019], [2024.48, 0.018],
  [2024.75, 0.017], [2025.01, 0.019], [2025.17, 0.032], [2025.33, 0.030], [2025.55, 0.019], [2025.71, 0.034],
  [2025.87, 0.028], [2026.08, 0.029], [2026.24, 0.030], [2026.38, 0.022],
  [2011.54, -0.019], [2011.65, -0.030], [2011.76, -0.023], [2011.86, -0.036], [2012.02, -0.025], [2012.18, -0.032],
  [2012.34, -0.023], [2012.55, -0.019], [2012.82, -0.013], [2013.09, -0.015], [2013.25, -0.023], [2013.35, -0.021],
  [2013.51, -0.032], [2013.67, -0.028], [2013.83, -0.023], [2013.94, -0.034], [2014.15, -0.019], [2014.36, -0.021],
  [2014.58, -0.017], [2014.79, -0.021], [2015.0, -0.025], [2015.22, -0.019], [2015.54, -0.019], [2015.80, -0.025],
  [2016.07, -0.019], [2016.33, -0.021], [2016.55, -0.019], [2016.76, -0.034], [2017.03, -0.015], [2017.45, -0.013],
  [2018.09, -0.017], [2018.30, -0.019], [2018.62, -0.015], [2019.05, -0.015], [2019.42, -0.017], [2019.69, -0.019],
  [2019.90, -0.017], [2020.06, -0.032], [2020.17, -0.047], [2020.27, -0.025], [2020.43, -0.036], [2020.65, -0.030],
  [2020.86, -0.034], [2021.13, -0.023], [2021.29, -0.028], [2021.55, -0.021], [2021.82, -0.023], [2022.09, -0.023],
  [2022.24, -0.019], [2022.56, -0.017], [2022.83, -0.017], [2023.10, -0.019], [2023.42, -0.017], [2023.73, -0.019],
  [2024.06, -0.017], [2024.32, -0.028], [2024.53, -0.021], [2024.80, -0.028], [2025.07, -0.023], [2025.28, -0.036],
  [2025.44, -0.023], [2025.65, -0.025], [2025.87, -0.036], [2026.13, -0.036], [2026.29, -0.032],
];

type Row = { t: number; hi?: number; lo?: number; hi2?: number; lo2?: number; spk?: number };

function buildRows(
  hi: number[], lo: number[], hi2: number[], lo2: number[], spikes: number[][], fuzz: number[][],
): Row[] {
  const rows: Row[] = BAND_T.map((t, i) => ({ t, hi: hi[i], lo: lo[i], hi2: hi2[i], lo2: lo2[i] }));
  [...spikes, ...fuzz].forEach(([t, v]) => {
    rows.push({ t, spk: 0 }, { t, spk: v }, { t, spk: 0 });
  });
  rows.sort((a, b) => a.t - b.t);
  return rows;
}

const PANELS = [
  { title: 'Apple  (SD 1.79%/day)', hi: APPLE_HI, lo: APPLE_LO, hi2: APPLE_HI2, lo2: APPLE_LO2, spikes: APPLE_SPIKES, fuzz: APPLE_FUZZ, col: 0, row: 0 },
  { title: 'Microsoft  (SD 1.65%/day)', hi: MSFT_HI, lo: MSFT_LO, hi2: MSFT_HI2, lo2: MSFT_LO2, spikes: MSFT_SPIKES, fuzz: MSFT_FUZZ, col: 1, row: 0 },
  { title: 'Amazon  (SD 2.07%/day)', hi: AMZN_HI, lo: AMZN_LO, hi2: AMZN_HI2, lo2: AMZN_LO2, spikes: AMZN_SPIKES, fuzz: AMZN_FUZZ, col: 0, row: 1 },
  { title: 'S&P 500  (SD 1.09%/day)', hi: SPX_HI, lo: SPX_LO, hi2: SPX_HI2, lo2: SPX_LO2, spikes: SPX_SPIKES, fuzz: SPX_FUZZ, col: 1, row: 1 },
  { title: 'Gold (GLD)  (SD 1.06%/day)', hi: GLD_HI, lo: GLD_LO, hi2: GLD_HI2, lo2: GLD_LO2, spikes: GLD_SPIKES, fuzz: GLD_FUZZ, col: 0, row: 2 },
  { title: 'Gold futures  (SD 1.09%/day)', hi: GC_HI, lo: GC_LO, hi2: GC_HI2, lo2: GC_LO2, spikes: GC_SPIKES, fuzz: GC_FUZZ, col: 1, row: 2 },
];

const PLOT_LEFT = [146, 1474];
const PLOT_TOP = [206, 841, 1476];
const PLOT_W = 1151;
const PLOT_H = 516;
const YAXIS_W = 146;
const M_TOP = 10;
const M_RIGHT = 10;

const fmtY = (v: number) => (v < 0 ? '\u2212' : '') + Math.abs(v).toFixed(1);

function Panel({ p }: { p: (typeof PANELS)[number] }) {
  const rows = buildRows(p.hi, p.lo, p.hi2, p.lo2, p.spikes, p.fuzz);
  const showX = p.row === 2;
  const xh = showX ? 80 : 16;
  const width = YAXIS_W + PLOT_W + M_RIGHT;
  const height = M_TOP + PLOT_H + xh;
  return (
    <div style={{ position: 'absolute', left: PLOT_LEFT[p.col] - YAXIS_W, top: PLOT_TOP[p.row] - M_TOP }}>
      <ComposedChart width={width} height={height} data={rows} margin={{ top: M_TOP, right: M_RIGHT, bottom: 0, left: 0 }}>
        <CartesianGrid stroke="#e6e6e6" strokeWidth={2} />
        <XAxis
          type="number"
          dataKey="t"
          domain={[2010.77, 2027.24]}
          ticks={YEAR_TICKS}
          interval={0}
          allowDataOverflow
          height={xh}
          tickSize={12}
          tickMargin={19}
          axisLine={{ stroke: '#000', strokeWidth: 2.7 }}
          tickLine={{ stroke: '#000', strokeWidth: 2.7 }}
          tick={{ fontSize: 40, fill: '#000', fontFamily: FONT }}
          tickFormatter={showX ? (v: number) => String(v) : () => ''}
        />
        <YAxis
          type="number"
          domain={[-0.16, 0.16]}
          ticks={Y_TICKS}
          interval={0}
          allowDataOverflow
          width={YAXIS_W}
          tickSize={12}
          tickMargin={14}
          axisLine={{ stroke: '#000', strokeWidth: 2.7 }}
          tickLine={{ stroke: '#000', strokeWidth: 2.7 }}
          tick={{ fontSize: 40, fill: '#000', fontFamily: FONT }}
          tickFormatter={fmtY}
        />
        <Area type="linear" dataKey="hi2" baseValue={0} stroke="none" fill={INK} fillOpacity={0.55}
          connectNulls dot={false} activeDot={false} isAnimationActive={false} />
        <Area type="linear" dataKey="lo2" baseValue={0} stroke="none" fill={INK} fillOpacity={0.55}
          connectNulls dot={false} activeDot={false} isAnimationActive={false} />
        <Area type="linear" dataKey="hi" baseValue={0} stroke={INK} strokeWidth={1.5} fill={INK} fillOpacity={1}
          connectNulls dot={false} activeDot={false} isAnimationActive={false} />
        <Area type="linear" dataKey="lo" baseValue={0} stroke={INK} strokeWidth={1.5} fill={INK} fillOpacity={1}
          connectNulls dot={false} activeDot={false} isAnimationActive={false} />
        <Line type="linear" dataKey="spk" stroke={INK} strokeWidth={2.5} connectNulls dot={false} activeDot={false}
          isAnimationActive={false} />
        <ReferenceLine y={0} stroke="#ff0000" strokeWidth={3.3} strokeDasharray="12.3 5.3" />
      </ComposedChart>
    </div>
  );
}

export default function App() {
  return (
    <div style={{ position: 'absolute', left: 0, top: 0, width: 2640, height: 2078, background: '#fff', fontFamily: FONT }}>
      {PANELS.map((p) => (
        <Panel key={p.title} p={p} />
      ))}
      <svg width={2640} height={2078} style={{ position: 'absolute', left: 0, top: 0, pointerEvents: 'none' }}>
        <text x={1320} y={53} textAnchor="middle" fontSize={50} fontFamily={FONT} fill="#000">
          {MAIN_TITLE}
        </text>
        {PANELS.map((p) => (
          <text
            key={p.title}
            x={PLOT_LEFT[p.col] + PLOT_W / 2}
            y={PLOT_TOP[p.row] - 24}
            textAnchor="middle"
            fontSize={46}
            fontFamily={FONT}
            fill="#000"
            xmlSpace="preserve"
            style={{ whiteSpace: 'pre' }}
          >
            {p.title}
          </text>
        ))}
      </svg>
    </div>
  );
}
